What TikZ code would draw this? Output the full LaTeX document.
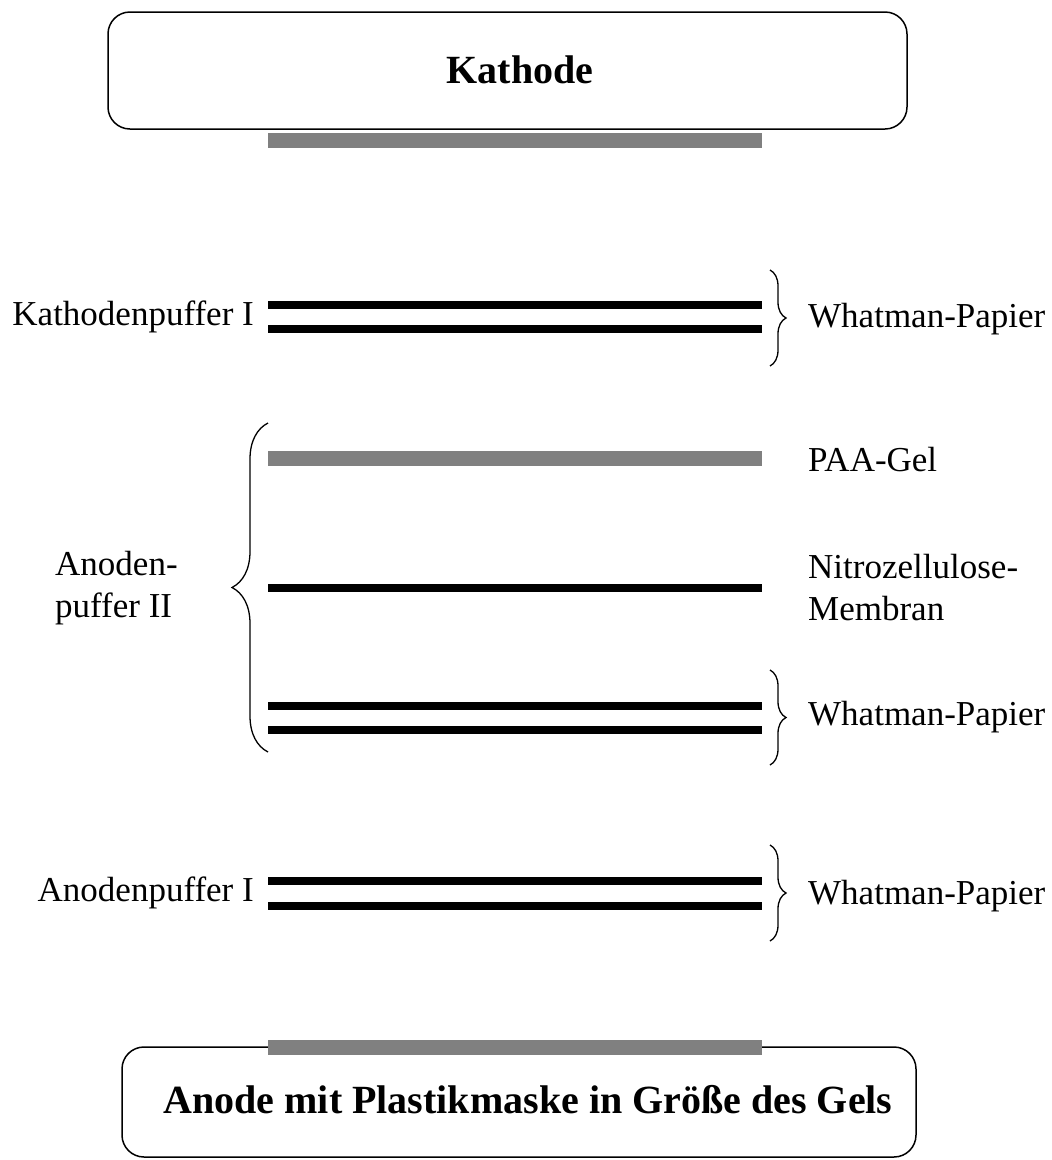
\documentclass[tikz,border=0pt]{standalone}
\usepackage{fontspec}
\setmainfont{Liberation Serif}
\usetikzlibrary{decorations.pathreplacing}

\tikzset{
  electrode/.style={draw,line width=1.5pt,rounded corners=22pt},
  paper/.style={line width=8pt},
  gel/.style={line width=15pt,color=gray},
  lbl/.style={font=\fontsize{35}{42}\selectfont,inner sep=0pt},
  blbl/.style={font=\fontsize{40}{48}\selectfont\bfseries,inner sep=0pt},
  rbrace/.style={decorate,decoration={brace,amplitude=16pt},line width=1.3pt},
  lbrace/.style={decorate,decoration={brace,amplitude=36pt},line width=1.3pt}
}

\begin{document}
\begin{tikzpicture}[x=1pt,y=-1pt]
            \useasboundingbox (0,0) rectangle (1052,1160);
            % electrodes
            \draw[electrode] (108,12) rectangle (907,129);
            \node[blbl] (kathode) at (520,70) {Kathode};
            \draw[electrode] (122,1047) rectangle (916,1157);
            \node[blbl] (anode) at (528,1100) {Anode mit Plastikmaske in Größe des Gels};
            \draw[gel] (268,140) -- (762,140);
            \draw[gel] (268,1047) -- (762,1047);
            % blot stack
            \draw[paper] (268,305) -- (762,305);
            \draw[paper] (268,329) -- (762,329);
            \draw[gel] (268,458) -- (762,458);
            \draw[paper] (268,588) -- (762,588);
            \draw[paper] (268,706) -- (762,706);
            \draw[paper] (268,730) -- (762,730);
            \draw[paper] (268,881) -- (762,881);
            \draw[paper] (268,906) -- (762,906);
            % braces
            \draw[rbrace] (770,270) -- (770,366);
            \draw[rbrace] (770,670) -- (770,765);
            \draw[rbrace] (770,845) -- (770,941);
            \draw[lbrace] (268,752) -- (268,423);
            % labels
            \node[lbl,anchor=east] (kp1) at (254,317) {Kathodenpuffer I};
            \node[lbl,anchor=west] (wp1) at (808,319) {Whatman-Papier};
            \node[lbl,anchor=west] (paa) at (808,460) {PAA-Gel};
            \node[lbl,anchor=west,align=left] (nc) at (808,588) {Nitrozellulose-\\Membran};
            \node[lbl,anchor=west,align=left] (ap2) at (55,588) {Anoden-\\puffer II};
            \node[lbl,anchor=west] (wp2) at (808,717) {Whatman-Papier};
            \node[lbl,anchor=east] (ap1) at (254,893) {Anodenpuffer I};
            \node[lbl,anchor=west] (wp3) at (808,896) {Whatman-Papier};
        \end{tikzpicture}
\end{document}
